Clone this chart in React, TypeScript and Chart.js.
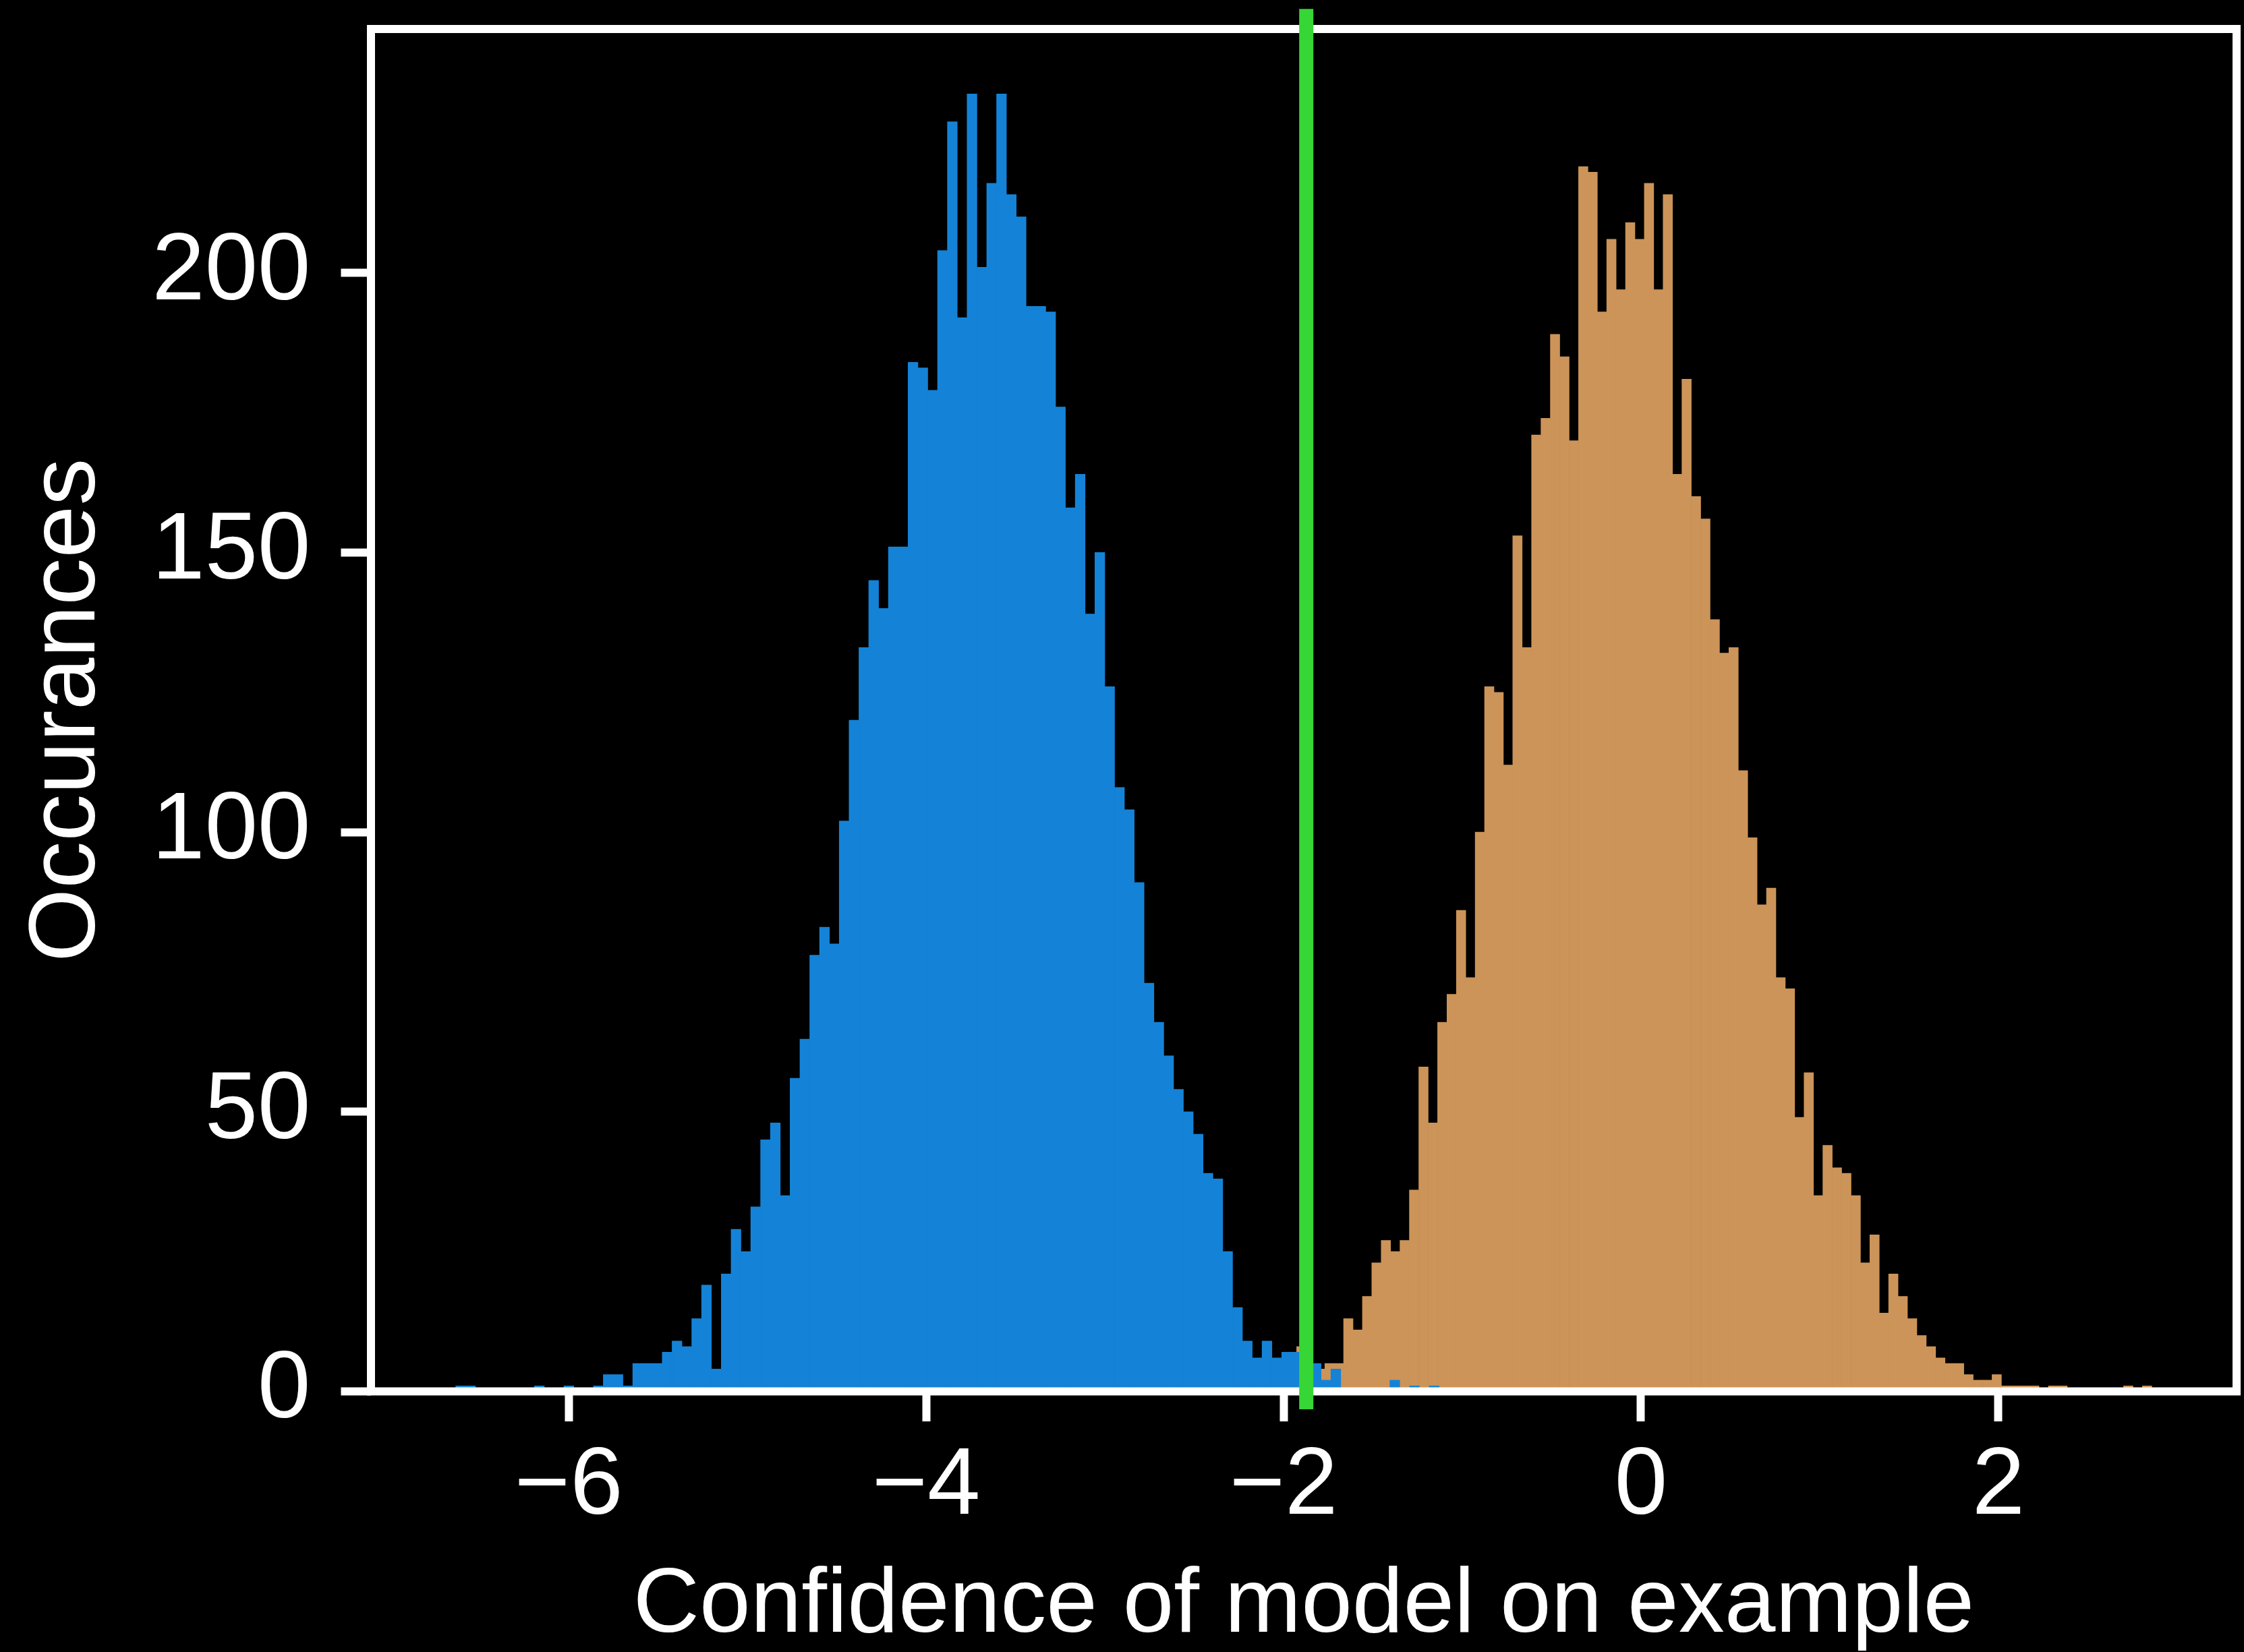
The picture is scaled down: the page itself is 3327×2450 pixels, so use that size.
import { useEffect, useRef } from 'react';
import { Chart, registerables } from 'chart.js';

Chart.register(...registerables);

const CANVAS_W = 3327;
const CANVAS_H = 2450;

// Histogram bin ranges (first edge, last edge) and counts
const BLUE_RANGE = [-6.632, -1.13];
const BLUE_COUNTS = [
  1, 1, 0, 0, 0, 0, 0, 0, 1, 0,
  0, 1, 0, 0, 1, 3, 3, 1, 5, 5,
  5, 7, 9, 8, 13, 19, 4, 21, 29, 25,
  33, 45, 48, 35, 56, 63, 78, 83, 80, 102,
  120, 133, 145, 140, 151, 151, 184, 183, 179, 204,
  227, 192, 232, 201, 216, 232, 214, 210, 194, 194,
  193, 176, 158, 164, 139, 150, 126, 108, 104, 91,
  73, 66, 60, 54, 50, 46, 39, 38, 25, 15,
  9, 6, 9, 6, 7, 7, 5, 5, 2, 4,
  0, 0, 0, 0, 0, 2, 0, 1, 0, 1,
];

const ORANGE_RANGE = [-1.927, 2.858];
const ORANGE_COUNTS = [
  8, 3, 4, 5, 5, 13, 11, 17, 23, 27,
  25, 27, 36, 58, 48, 66, 71, 86, 74, 100,
  126, 125, 112, 153, 133, 171, 174, 189, 185, 170,
  219, 218, 193, 206, 197, 209, 206, 216, 197, 214,
  164, 181, 160, 156, 138, 132, 133, 111, 99, 87,
  90, 74, 72, 49, 57, 35, 44, 40, 39, 35,
  23, 28, 14, 21, 17, 13, 10, 8, 6, 5,
  5, 3, 2, 2, 3, 1, 1, 1, 1, 0,
  1, 1, 0, 0, 0, 0, 0, 0, 1, 0,
  1,
];

const THRESHOLD_X = -1.873;
const THRESHOLD_SPAN = [-3.2, 247.2];

const X_TICKS = [-6, -4, -2, 0, 2];
const Y_TICKS = [0, 50, 100, 150, 200];
const X_TITLE = 'Confidence of model on example';
const Y_TITLE = 'Occurances';

const BLUE = '#1483d7';
const ORANGE = '#cc9458';
const GREEN = '#36d636';
const FONT = "'Liberation Sans', Arial, sans-serif";

function histPoints(range: number[], counts: number[]) {
  const w = (range[1] - range[0]) / counts.length;
  return counts.map((c, i) => ({ x: range[0] + (i + 0.5) * w, y: c }));
}

const fmt = (v: number) => (v < 0 ? '\u2212' + Math.abs(v) : String(v));

export default function App() {
  const ref = useRef<HTMLCanvasElement>(null);

  useEffect(() => {
    document.body.style.margin = '0';
    document.body.style.background = '#000';
    const canvas = ref.current;
    if (!canvas) return;

    const dataMin = Math.min(BLUE_RANGE[0], ORANGE_RANGE[0]);
    const dataMax = Math.max(BLUE_RANGE[1], ORANGE_RANGE[1]);
    const pad = (dataMax - dataMin) * 0.05;
    const xMin = dataMin - pad;
    const xMax = dataMax + pad;
    const yMax = Math.max(...BLUE_COUNTS, ...ORANGE_COUNTS) * 1.05;

    const bg = {
      id: 'bg',
      beforeDraw(c: any) {
        const ctx = c.ctx;
        ctx.save();
        ctx.fillStyle = '#000';
        ctx.fillRect(0, 0, c.width, c.height);
        ctx.restore();
      },
    };
    const frame = {
      id: 'frame',
      afterDatasetDraw(c: any, args: any) {
        if (c.data.datasets[args.index].label !== 'blue') return;
        const { left, top, right, bottom } = c.chartArea;
        const ctx = c.ctx;
        ctx.save();
        ctx.strokeStyle = '#ffffff';
        ctx.lineWidth = 12;
        ctx.lineJoin = 'miter';
        ctx.strokeRect(left, top, right - left, bottom - top);
        ctx.restore();
      },
    };

    const tickFont = { family: FONT, size: 141 };
    const gridOpts = {
      display: true,
      offset: false,
      drawOnChartArea: false,
      drawTicks: true,
      tickLength: 44.5,
      tickWidth: 12,
      tickColor: '#ffffff',
    };

    const chart = new Chart(canvas, {
      type: 'bar',
      data: {
        datasets: [
          {
            type: 'bar',
            label: 'blue',
            data: histPoints(BLUE_RANGE, BLUE_COUNTS),
            backgroundColor: BLUE,
            borderWidth: 0,
            barPercentage: 1,
            categoryPercentage: 1,
            grouped: false,
            xAxisID: 'x',
            yAxisID: 'y',
            order: 1,
          },
          {
            type: 'bar',
            label: 'orange',
            data: histPoints(ORANGE_RANGE, ORANGE_COUNTS),
            backgroundColor: ORANGE,
            borderWidth: 0,
            barPercentage: 1,
            categoryPercentage: 1,
            grouped: false,
            xAxisID: 'x2',
            yAxisID: 'y',
            order: 2,
          },
          {
            type: 'line',
            label: 'threshold',
            data: [
              { x: THRESHOLD_X, y: THRESHOLD_SPAN[0] },
              { x: THRESHOLD_X, y: THRESHOLD_SPAN[1] },
            ],
            borderColor: GREEN,
            borderWidth: 21,
            pointRadius: 0,
            borderCapStyle: 'butt',
            clip: false,
            xAxisID: 'x',
            yAxisID: 'y',
            order: 0,
          } as any,
        ],
      },
      options: {
        animation: false,
        responsive: false,
        maintainAspectRatio: false,
        devicePixelRatio: 1,
        events: [],
        layout: { padding: { left: 0, right: 11, top: 43, bottom: 0 }, autoPadding: false },
        plugins: { legend: { display: false }, tooltip: { enabled: false } },
        scales: {
          x: {
            type: 'linear',
            position: 'bottom',
            offset: false,
            min: xMin,
            max: xMax,
            afterBuildTicks: (s: any) => {
              s.ticks = X_TICKS.map((v) => ({ value: v }));
            },
            afterFit: (s: any) => {
              s.height = 386.5;
              s.paddingLeft = 0;
              s.paddingRight = 0;
            },
            grid: gridOpts,
            border: { display: false },
            ticks: {
              color: '#ffffff',
              font: tickFont,
              padding: 14,
              maxRotation: 0,
              autoSkip: false,
              callback: (v: any) => fmt(Number(v)),
            },
            title: {
              display: true,
              text: X_TITLE,
              color: '#ffffff',
              font: { family: FONT, size: 136, lineHeight: 1 },
              padding: { top: 0, bottom: 0 },
            },
          },
          x2: {
            type: 'linear',
            display: false,
            offset: false,
            grid: { offset: false },
            min: xMin,
            max: xMax,
          },
          y: {
            type: 'linear',
            position: 'left',
            min: 0,
            max: yMax,
            afterBuildTicks: (s: any) => {
              s.ticks = Y_TICKS.map((v) => ({ value: v }));
            },
            afterFit: (s: any) => {
              s.width = 550;
              s.paddingTop = 0;
              s.paddingBottom = 0;
            },
            grid: gridOpts,
            border: { display: false },
            ticks: {
              color: '#ffffff',
              font: tickFont,
              padding: 45,
              callback: (v: any) => fmt(Number(v)),
            },
            title: {
              display: true,
              text: Y_TITLE,
              color: '#ffffff',
              font: { family: FONT, size: 140, lineHeight: 1 },
              padding: { top: 31, bottom: 0 },
            },
          },
        },
      } as any,
      plugins: [bg, frame],
    });

    return () => chart.destroy();
  }, []);

  return (
    <canvas
      ref={ref}
      width={CANVAS_W}
      height={CANVAS_H}
      style={{ display: 'block', width: CANVAS_W + 'px', height: CANVAS_H + 'px' }}
    />
  );
}
